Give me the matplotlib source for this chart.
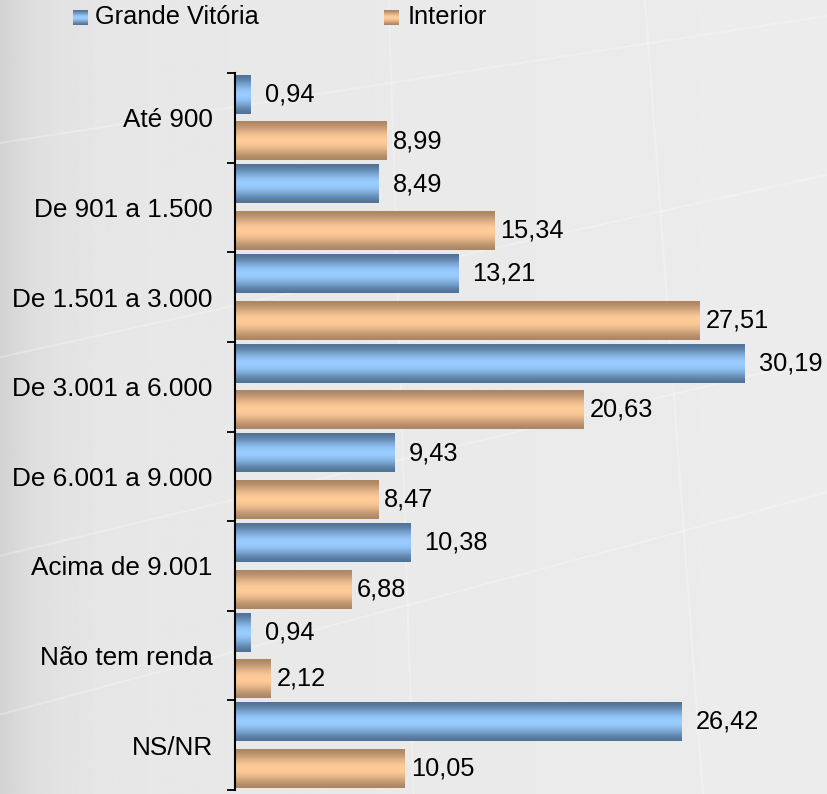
import matplotlib.pyplot as plt
import numpy as np

plt.rcParams['font.family'] = ['Liberation Sans', 'DejaVu Sans']

categories = ['Até 900', 'De 901 a 1.500', 'De 1.501 a 3.000', 'De 3.001 a 6.000',
              'De 6.001 a 9.000', 'Acima de 9.001', 'Não tem renda', 'NS/NR']
grande_vitoria = [0.94, 8.49, 13.21, 30.19, 9.43, 10.38, 0.94, 26.42]
interior = [8.99, 15.34, 27.51, 20.63, 8.47, 6.88, 2.12, 10.05]
series_names = ['Grande Vitória', 'Interior']

FS = 18.3


def gradient_cmap(edge, center):
    edge = np.array(edge) / 255.0
    center = np.array(center) / 255.0
    t = np.linspace(0, 1, 64)
    w = np.sin(np.pi * t) ** 1.6
    return edge[None, :] * (1 - w[:, None]) + center[None, :] * w[:, None]


blue_grad = gradient_cmap((82, 115, 150), (153, 204, 255))
orange_grad = gradient_cmap((172, 134, 100), (255, 204, 153))

fig = plt.figure(figsize=(8.27, 7.94), dpi=100)

# background: light gray with darker left edge and faint lines
bg = fig.add_axes([0, 0, 1, 1], zorder=-10)
xx = np.linspace(0, 1, 400)
shade = 0.905 - 0.08 * np.exp(-xx / 0.05) + 0.02 * xx
bg.imshow(np.tile(shade, (10, 1)), cmap='gray', vmin=0, vmax=1,
          aspect='auto', extent=[0, 1, 0, 1])
for (x0, y0, x1, y1) in [(0, 0.30, 1, 0.55), (0, 0.55, 1, 0.78), (0, 0.10, 1, 0.38),
                         (0, 0.82, 1, 0.98), (0.47, 1, 0.50, 0), (0.78, 1, 0.85, 0)]:
    bg.plot([x0, x1], [y0, y1], color='white', alpha=0.25, lw=1.5)
bg.set_xlim(0, 1)
bg.set_ylim(0, 1)
bg.axis('off')

ax = fig.add_axes([235 / 827, 1 - 790 / 794, 1 - 235 / 827, (790 - 73) / 794])
ax.patch.set_alpha(0)

y = np.arange(len(categories))
h = 0.43
off = 0.26
b1 = ax.barh(y - off, grande_vitoria, height=h, color='none')
b2 = ax.barh(y + off, interior, height=h, color='none')

for bars, grad in [(b1, blue_grad), (b2, orange_grad)]:
    for bar in bars:
        x0, y0 = bar.get_x(), bar.get_y()
        w, hh = bar.get_width(), bar.get_height()
        ax.imshow(grad[:, None, :], aspect='auto', interpolation='bilinear',
                  extent=[x0, x0 + w, y0 + hh, y0], zorder=2)

for bar, v in zip(b1, grande_vitoria):
    ax.annotate(f'{v:.2f}'.replace('.', ','), (bar.get_width(), bar.get_y() + bar.get_height() / 2),
                xytext=(14, 0), textcoords='offset pixels', va='center', ha='left', fontsize=FS)
for bar, v in zip(b2, interior):
    ax.annotate(f'{v:.2f}'.replace('.', ','), (bar.get_width(), bar.get_y() + bar.get_height() / 2),
                xytext=(6, 0), textcoords='offset pixels', va='center', ha='left', fontsize=FS)

ax.set_xlim(0, 592 / (510 / 30.19))
ax.set_ylim(len(categories) - 0.5, -0.5)
ax.set_yticks(y)
ax.set_yticklabels(categories, fontsize=18.8)
ax.set_yticks(np.arange(len(categories) + 1) - 0.5, minor=True)
ax.tick_params(axis='y', which='major', length=0, pad=16)
ax.tick_params(axis='y', which='minor', length=6, width=1.3, direction='out')
ax.set_xticks([])
for s in ['top', 'right', 'bottom']:
    ax.spines[s].set_visible(False)
ax.spines['left'].set_linewidth(1.5)

# legend
fig.text(95 / 827, 1 - 17 / 794, series_names[0], fontsize=FS, va='center', ha='left')
fig.text(408 / 827, 1 - 17 / 794, series_names[1], fontsize=FS, va='center', ha='left')
for xpix, grad in [(73, blue_grad), (384, orange_grad)]:
    lax = fig.add_axes([xpix / 827, 1 - 25 / 794, 15 / 827, 15 / 794])
    lax.imshow(grad[:, None, :], aspect='auto', interpolation='bilinear')
    lax.axis('off')

fig.savefig('out.png', dpi=100)
